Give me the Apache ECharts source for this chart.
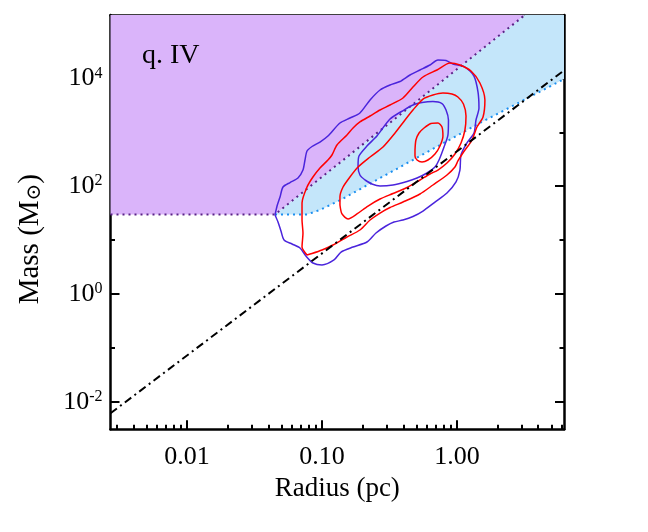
<!DOCTYPE html>
<html>
<head>
<meta charset="utf-8">
<script src="https://cdn.jsdelivr.net/npm/echarts@6/dist/echarts.min.js"></script>
<style>
  html, body { margin: 0; padding: 0; background: #fff; }
  #chart { width: 648px; height: 532px; }
</style>
</head>
<body>
<div id="chart"></div>
<script>
// all values are log10: x = log10(Radius / pc), y = log10(Mass / Msun)
const xRange = [-2.567, 0.793];
const yRange = [-2.512, 5.179];

const xMajorTicks = [-2, -1, 0];
const xTickLabels = ['0.01', '0.10', '1.00'];
const yMajorTicks = [-2, 0, 2, 4];
const yTickExponents = ['-2', '0', '2', '4'];
const yMinorTicks = [-1, 1, 3, 5];
const minorMultipliers = [2, 3, 4, 5, 6, 7, 8, 9];

// shaded regions
const purpleRegion = [[-2.567, 5.179], [-2.567, 1.477], [-1.348, 1.477], [0.503, 5.179]];
const blueRegion = [[-1.348, 1.477], [-1.11, 1.477], [-1.015, 1.56], [-0.867, 1.74], [-0.622, 2.079],
  [-0.274, 2.561], [0.170, 3.174], [0.793, 3.99], [0.793, 5.179], [0.503, 5.179]];

// dotted boundaries
const purpleLine = [[-2.567, 1.477], [-1.348, 1.477], [0.503, 5.179]];
const blueLine = [[-1.348, 1.477], [-1.11, 1.477], [-1.015, 1.56], [-0.867, 1.74], [-0.622, 2.079],
  [-0.274, 2.561], [0.170, 3.174], [0.793, 3.99]];

// dash-dot relation
const blackLine = [[-2.567, -2.215], [0.793, 4.15]];

// contours
const blueOuter = [[-1.348,1.466],[-1.333,1.633],[-1.311,1.800],[-1.289,1.986],[-1.237,2.069],[-1.178,2.153],
  [-1.141,2.301],[-1.126,2.487],[-1.111,2.654],[-1.074,2.738],[-1.015,2.821],[-0.956,2.933],[-0.867,3.174],
  [-0.793,3.267],[-0.719,3.360],[-0.644,3.601],[-0.570,3.787],[-0.496,3.879],[-0.422,3.944],[-0.348,4.065],
  [-0.274,4.158],[-0.200,4.251],[-0.141,4.343],[-0.081,4.334],[-0.030,4.269],[0.059,4.213],[0.126,4.046],
  [0.156,3.749],[0.163,3.452],[0.141,3.230],[0.126,2.988],[0.074,2.803],[0.030,2.580],[0.022,2.301],
  [-0.007,2.079],[-0.074,1.874],[-0.163,1.707],[-0.252,1.540],[-0.326,1.438],[-0.400,1.373],[-0.467,1.336],
  [-0.526,1.262],[-0.600,1.132],[-0.667,0.965],[-0.770,0.872],[-0.859,0.779],[-0.911,0.631],[-1.000,0.538],
  [-1.067,0.575],[-1.119,0.705],[-1.163,0.854],[-1.222,0.928],[-1.281,1.002],[-1.304,1.169],[-1.326,1.336]];
const blueInner = [[-0.681,2.116],[-0.630,2.042],[-0.570,2.004],[-0.474,2.023],[-0.370,2.088],[-0.296,2.153],
  [-0.222,2.246],[-0.163,2.357],[-0.133,2.487],[-0.096,2.729],[-0.067,2.951],[-0.063,3.230],[-0.081,3.415],
  [-0.111,3.536],[-0.178,3.573],[-0.259,3.554],[-0.326,3.508],[-0.393,3.415],[-0.496,3.248],[-0.593,2.933],
  [-0.667,2.747],[-0.726,2.561],[-0.733,2.376],[-0.719,2.209]];
const redOuter = [[-1.111,0.724],[-1.148,0.872],[-1.141,1.132],[-1.148,1.373],[-1.148,1.689],[-1.111,1.986],
  [-1.067,2.172],[-1.015,2.339],[-0.956,2.487],[-0.926,2.580],[-0.889,2.766],[-0.815,2.951],[-0.770,3.081],
  [-0.719,3.193],[-0.644,3.304],[-0.570,3.415],[-0.496,3.508],[-0.400,3.638],[-0.326,3.842],[-0.252,4.028],
  [-0.148,4.158],[-0.052,4.288],[0.022,4.251],[0.104,4.139],[0.170,3.917],[0.207,3.601],[0.193,3.285],
  [0.148,3.100],[0.111,2.858],[0.044,2.617],[0.007,2.469],[-0.015,2.357],[-0.074,2.209],[-0.178,2.023],
  [-0.274,1.856],[-0.400,1.707],[-0.496,1.605],[-0.570,1.503],[-0.644,1.373],[-0.719,1.188],[-0.815,1.058],
  [-0.919,0.909],[-1.000,0.816],[-1.074,0.751]];
const redMiddle = [[-0.867,1.652],[-0.867,1.800],[-0.844,1.986],[-0.793,2.172],[-0.733,2.357],[-0.644,2.543],
  [-0.548,2.729],[-0.459,2.988],[-0.385,3.230],[-0.326,3.415],[-0.252,3.619],[-0.178,3.694],[-0.104,3.731],
  [-0.037,3.712],[0.007,3.657],[0.048,3.527],[0.067,3.304],[0.059,3.044],[0.030,2.803],[-0.015,2.598],
  [-0.074,2.431],[-0.141,2.301],[-0.200,2.227],[-0.274,2.116],[-0.370,1.977],[-0.474,1.865],[-0.570,1.763],
  [-0.659,1.633],[-0.741,1.485],[-0.807,1.392],[-0.852,1.485]];
const redInner = [[-0.311,2.673],[-0.304,2.858],[-0.281,2.988],[-0.244,3.081],[-0.193,3.165],[-0.141,3.174],
  [-0.111,3.100],[-0.104,2.933],[-0.126,2.747],[-0.163,2.598],[-0.215,2.487],[-0.259,2.450],[-0.296,2.487],
  [-0.311,2.561]];

const FONT = "'Liberation Serif', 'DejaVu Serif', serif";
const BLUE = '#4a24dc';
const RED = '#ff0000';

// minor tick positions on the log x axis
const xMinorTicks = [];
[-3, -2, -1, 0].forEach(function (d) {
  minorMultipliers.forEach(function (k) {
    const v = d + Math.log10(k);
    if (v > xRange[0] && v < xRange[1]) xMinorTicks.push(v);
  });
});

const chart = echarts.init(document.getElementById('chart'));

function polygon(points, color) {
  return {
    type: 'custom',
    silent: true,
    data: [0],
    z: 1,
    renderItem: function (params, api) {
      return {
        type: 'polygon',
        shape: { points: points.map(function (p) { return api.coord(p); }) },
        style: { fill: color }
      };
    }
  };
}

function line(points, color, width, type, closed, z) {
  const data = closed ? points.concat([points[0]]) : points;
  return {
    type: 'line',
    data: data,
    symbol: 'none',
    silent: true,
    smooth: closed ? 0.25 : false,
    z: z,
    lineStyle: { color: color, width: width, type: type }
  };
}

function xAxis(position, ticks, len, showLine) {
  return {
    type: 'value', position: position, min: xRange[0], max: xRange[1],
    axisLine: { show: showLine, onZero: false, lineStyle: { color: '#000', width: 2.5 } },
    axisTick: { show: true, inside: true, length: len, customValues: ticks, lineStyle: { color: '#000', width: 2 } },
    axisLabel: { show: false },
    splitLine: { show: false }
  };
}

function yAxis(position, ticks, len, showLine) {
  return {
    type: 'value', position: position, min: yRange[0], max: yRange[1],
    axisLine: { show: showLine, onZero: false, lineStyle: { color: '#000', width: 2.5 } },
    axisTick: { show: true, inside: true, length: len, customValues: ticks, lineStyle: { color: '#000', width: 2 } },
    axisLabel: { show: false },
    splitLine: { show: false }
  };
}

const xMain = xAxis('bottom', xMajorTicks, 9, true);
xMain.axisLabel = {
  show: true, customValues: xMajorTicks, margin: 15,
  fontFamily: FONT, fontSize: 26, color: '#000',
  formatter: function (v) { return xTickLabels[xMajorTicks.indexOf(v)]; }
};
xMain.name = 'Radius (pc)';
xMain.nameLocation = 'middle';
xMain.nameGap = 41;
xMain.nameTextStyle = { fontFamily: FONT, fontSize: 27, color: '#000' };

const yMain = yAxis('left', yMajorTicks, 9, true);
yMain.axisLabel = {
  show: true, customValues: yMajorTicks, margin: 8,
  formatter: function (v) { return '{b|10}{s|' + yTickExponents[yMajorTicks.indexOf(v)] + '}'; },
  rich: {
    b: { fontFamily: FONT, fontSize: 26, lineHeight: 26, color: '#000' },
    s: { fontFamily: FONT, fontSize: 16, lineHeight: 16, verticalAlign: 'top', color: '#000' }
  }
};
yMain.name = '{a|Mass (M}{s|\u2299}{a|)}';
yMain.nameLocation = 'middle';
yMain.nameGap = 66;
yMain.nameTextStyle = {
  padding: [0, 34, 0, 0],
  rich: {
    a: { fontFamily: FONT, fontSize: 29, lineHeight: 28, color: '#000' },
    s: { fontFamily: "'DejaVu Serif', serif", fontSize: 20, lineHeight: 14, verticalAlign: 'bottom', color: '#000' }
  }
};

const option = {
  animation: false,
  backgroundColor: '#fff',
  title: {
    text: 'q. IV', left: 142, top: 42, padding: 0,
    textStyle: { fontFamily: FONT, fontSize: 28, fontWeight: 'normal', color: '#000' }
  },
  grid: { left: 110.5, right: 84, top: 15, bottom: 102.7 },
  xAxis: [
    xMain,
    xAxis('bottom', xMinorTicks, 4.5, false),
    xAxis('top', xMajorTicks, 9, true),
    xAxis('top', xMinorTicks, 4.5, false)
  ],
  yAxis: [
    yMain,
    yAxis('left', yMinorTicks, 4.5, false),
    yAxis('right', yMajorTicks, 9, true),
    yAxis('right', yMinorTicks, 4.5, false)
  ],
  series: [
    polygon(purpleRegion, '#dab4fa'),
    polygon(blueRegion, '#c4e6fa'),
    line(purpleLine, '#5a2288', 2, [2, 4], false, 3),
    line(blueLine, '#1b8ff0', 2, [2, 4], false, 3),
    line(blueOuter, BLUE, 1.5, 'solid', true, 4),
    line(blueInner, BLUE, 1.5, 'solid', true, 4),
    line(redOuter, RED, 1.5, 'solid', true, 5),
    line(redMiddle, RED, 1.5, 'solid', true, 5),
    line(redInner, RED, 1.5, 'solid', true, 5),
    line(blackLine, '#000', 2, [8, 4, 2, 4], false, 6)
  ]
};

chart.setOption(option);
</script>
</body>
</html>
